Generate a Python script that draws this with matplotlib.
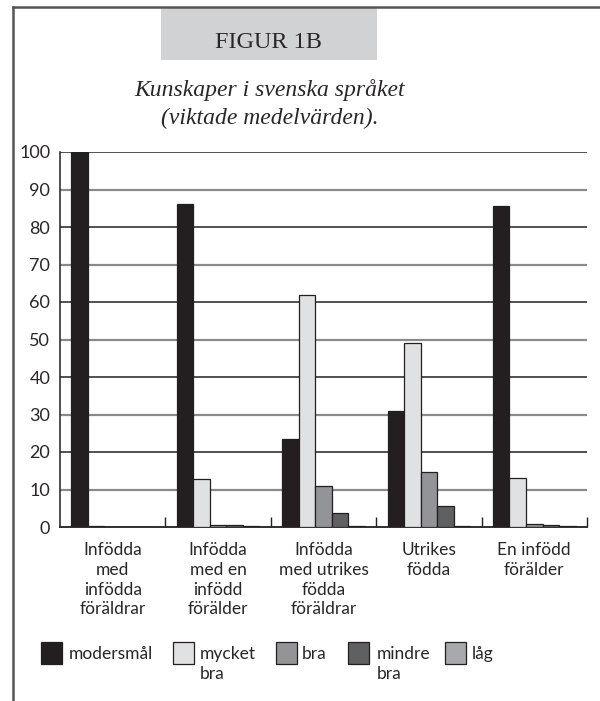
import matplotlib
matplotlib.use("Agg")
import matplotlib.pyplot as plt
import numpy as np
from matplotlib.patches import Rectangle
from matplotlib.lines import Line2D

categories = ["Infödda\nmed\ninfödda\nföräldrar", "Infödda\nmed en\ninfödd\nförälder",
              "Infödda\nmed utrikes\nfödda\nföräldrar", "Utrikes\nfödda", "En infödd\nförälder"]
series_names = ["modersmål", "mycket\nbra", "bra", "mindre\nbra", "låg"]
modersmal = [100.0, 86.1, 23.6, 31.0, 85.5]
mycket_bra = [0.2, 12.7, 61.9, 49.2, 13.1]
bra = [0.1, 0.6, 11.0, 14.7, 0.8]
mindre_bra = [0.1, 0.5, 3.7, 5.6, 0.6]
lag = [0.0, 0.3, 0.3, 0.2, 0.3]
yticks = [0, 10, 20, 30, 40, 50, 60, 70, 80, 90, 100]

values = [modersmal, mycket_bra, bra, mindre_bra, lag]
colors = ["#231f20", "#e0e1e2", "#929497", "#5f6062", "#a7a9ac"]

sans = "Lato"
serif = "Liberation Serif"
txtcol = "#2a2627"

fig = plt.figure(figsize=(6.0, 7.01), dpi=100)
W, H = 600, 701
ax = fig.add_axes([60 / W, 1 - 527 / H, (587 - 60) / W, (527 - 152) / H])

n = len(categories)
bw = 0.157
x0 = np.arange(n) + 0.5
for i, (vals, c) in enumerate(zip(values, colors)):
    ax.bar(x0 + (i - 2) * bw, vals, width=bw, color=c, edgecolor="#231f20",
           linewidth=0.9, zorder=3)

ax.set_xlim(0, n)
ax.set_ylim(0, 100)
ax.set_yticks(yticks)
ax.set_yticklabels([str(t) for t in yticks], fontfamily=sans, fontsize=13, color=txtcol)
for t in yticks[1:]:
    col = "#231f20" if t % 20 == 0 else "#8a8a8a"
    lw = 1.1 if t % 20 == 0 else 1.6
    ax.axhline(t, color=col, linewidth=lw, zorder=1)

ax.set_xticks(x0)
ax.set_xticklabels(categories, fontfamily=sans, fontsize=12.5, color=txtcol,
                   linespacing=1.28)
ax.tick_params(axis="x", length=0, pad=11)
ax.tick_params(axis="y", length=0, pad=7)
ax.set_xticks(np.arange(1, n + 1), minor=True)
ax.tick_params(axis="x", which="minor", direction="in", length=7, width=1, color="#231f20")

for s in ["top", "right"]:
    ax.spines[s].set_visible(False)
ax.spines["left"].set_color("#231f20")
ax.spines["bottom"].set_color("#231f20")
ax.spines["left"].set_linewidth(1.1)
ax.spines["bottom"].set_linewidth(1.3)

# frame lines
fig.add_artist(Line2D([13 / W, 13 / W], [0, 1 - 7 / H], transform=fig.transFigure,
                      color="#555555", linewidth=1.8))
fig.add_artist(Line2D([13 / W, 1], [1 - 7 / H, 1 - 7 / H], transform=fig.transFigure,
                      color="#555555", linewidth=1.8))

# title box
fig.add_artist(Rectangle((161 / W, 1 - 60 / H), (377 - 161) / W, (60 - 8) / H,
                         transform=fig.transFigure, facecolor="#d1d2d4", edgecolor="none"))
fig.text(268 / W, 1 - 42 / H, "FIGUR 1B", fontfamily=serif, fontsize=17.5,
         ha="center", va="center", color=txtcol)
fig.text(270 / W, 1 - 104 / H, "Kunskaper i svenska språket\n(viktade medelvärden).",
         fontfamily=serif, style="italic", fontsize=17, ha="center", va="center",
         color=txtcol, linespacing=1.4)

# legend (manual layout)
sw_x = [41, 173, 276, 348, 445]
tx_x = [69, 200, 302, 377, 472]
for c, name, sx, tx in zip(colors, series_names, sw_x, tx_x):
    fig.add_artist(Rectangle((sx / W, 1 - 664 / H), 21 / W, 22 / H,
                             transform=fig.transFigure, facecolor=c,
                             edgecolor="#231f20", linewidth=0.9))
    fig.text(tx / W, 1 - 646 / H, name, fontfamily=sans, fontsize=12.5,
             ha="left", va="top", color=txtcol, linespacing=1.28)

fig.savefig("out.png", dpi=100)
